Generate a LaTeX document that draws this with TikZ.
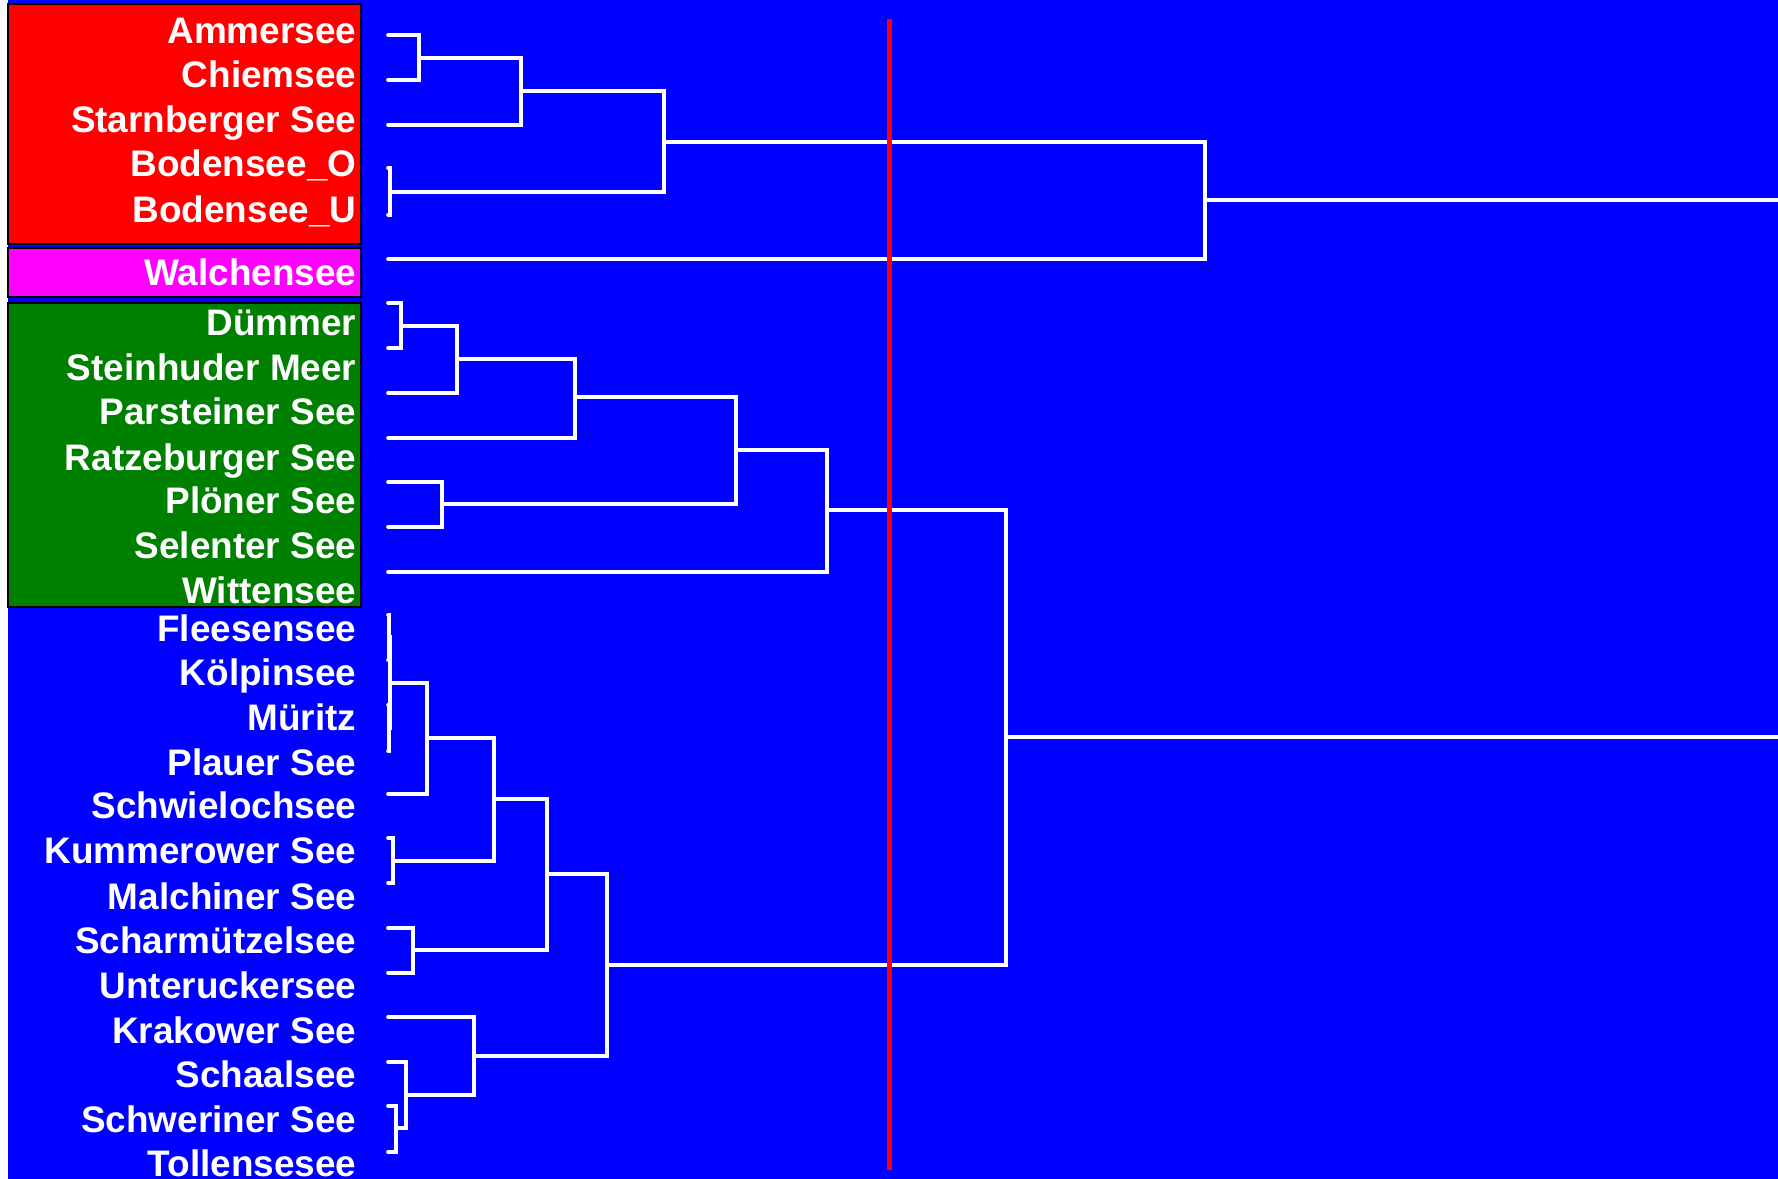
\documentclass[tikz,border=0pt]{standalone}
\usepackage{fontspec}
\setmainfont{Liberation Sans}
\usepackage{xcolor}
\usepackage{tikz}
\usetikzlibrary{calc}
\definecolor{C_BG}   {HTML}{0000FF}
\definecolor{C_SOUTH}{HTML}{FF0000}
\definecolor{C_WALCH}{HTML}{FF00FF}
\definecolor{C_NORTH}{HTML}{008000}
\definecolor{C_CUT}  {HTML}{FF0000}
\tikzset{
  %% -- lake name (right aligned on its baseline) --
  DG/lake/.style={
    text=white, anchor=base east, inner sep=0pt,
    font=\fontsize{10.5}{12}\selectfont\bfseries
  },
  %% -- coloured group box behind the names --
  DG/group/.style={draw=black, line width=0.02cm},
  %% -- dendrogram link --
  DG/link/.style={draw=white, line width=0.036cm, line cap=round},
  %% -- cut line --
  DG/cut/.style={draw=C_CUT, line width=0.05cm},
}

\begin{document}
\begin{tikzpicture}[x=0.01cm, y=-0.01cm]

\useasboundingbox (0,0) rectangle (1778,1179);
\pgfmathsetmacro{\xT}{357}  %% right edge of names
\pgfmathsetmacro{\xL}{388}  %% start of leaves

%% ━━━━━━━━━━━━━━━━━━━━━━━━━━━━━━━━━━━━━━━━━━━━━━━━━━━━━━━━━━━━━━━━━━━━━
%%  BACKGROUND AND GROUP BOXES
%% ━━━━━━━━━━━━━━━━━━━━━━━━━━━━━━━━━━━━━━━━━━━━━━━━━━━━━━━━━━━━━━━━━━━━━
\fill[C_BG] (8,0) rectangle (1778,1179);
\draw[DG/group, fill=C_SOUTH] (8,4)   rectangle (361,244);
\draw[DG/group, fill=C_WALCH] (8,248) rectangle (361,297);
\draw[DG/group, fill=C_NORTH] (8,303) rectangle (361,607);

%% ━━━━━━━━━━━━━━━━━━━━━━━━━━━━━━━━━━━━━━━━━━━━━━━━━━━━━━━━━━━━━━━━━━━━━
%%  LAKE NAMES
%% ━━━━━━━━━━━━━━━━━━━━━━━━━━━━━━━━━━━━━━━━━━━━━━━━━━━━━━━━━━━━━━━━━━━━━
\node[DG/lake] (nAmmer)  at (\xT,44)   {Ammersee};
\node[DG/lake] (nChiem)  at (\xT,88)   {Chiemsee};
\node[DG/lake] (nStarn)  at (\xT,133)  {Starnberger See};
\node[DG/lake] (nBodO)   at (\xT,177)  {Bodensee\_O};
\node[DG/lake] (nBodU)   at (\xT,222)  {Bodensee\_U};
\node[DG/lake] (nWalch)  at (\xT,285)  {Walchensee};
\node[DG/lake] (nDuemm)  at (\xT,336)  {Dümmer};
\node[DG/lake] (nSteinh) at (\xT,380)  {Steinhuder Meer};
\node[DG/lake] (nParst)  at (\xT,425)  {Parsteiner See};
\node[DG/lake] (nRatze)  at (\xT,470)  {Ratzeburger See};
\node[DG/lake] (nPloen)  at (\xT,513)  {Plöner See};
\node[DG/lake] (nSelent) at (\xT,558)  {Selenter See};
\node[DG/lake] (nWitten) at (\xT,603)  {Wittensee};
\node[DG/lake] (nFlees)  at (\xT,641)  {Fleesensee};
\node[DG/lake] (nKoelp)  at (\xT,685)  {Kölpinsee};
\node[DG/lake] (nMueri)  at (\xT,730)  {Müritz};
\node[DG/lake] (nPlauer) at (\xT,775)  {Plauer See};
\node[DG/lake] (nSchwie) at (\xT,818)  {Schwielochsee};
\node[DG/lake] (nKummer) at (\xT,863)  {Kummerower See};
\node[DG/lake] (nMalch)  at (\xT,909)  {Malchiner See};
\node[DG/lake] (nScharm) at (\xT,953)  {Scharmützelsee};
\node[DG/lake] (nUnter)  at (\xT,998)  {Unteruckersee};
\node[DG/lake] (nKrak)   at (\xT,1043) {Krakower See};
\node[DG/lake] (nSchaal) at (\xT,1087) {Schaalsee};
\node[DG/lake] (nSchwer) at (\xT,1132) {Schweriner See};
\node[DG/lake] (nToll)   at (\xT,1176) {Tollensesee};

%% ━━━━━━━━━━━━━━━━━━━━━━━━━━━━━━━━━━━━━━━━━━━━━━━━━━━━━━━━━━━━━━━━━━━━━
%%  LEAVES
%% ━━━━━━━━━━━━━━━━━━━━━━━━━━━━━━━━━━━━━━━━━━━━━━━━━━━━━━━━━━━━━━━━━━━━━
\coordinate (lAmmer)  at (\xL,35);
\coordinate (lChiem)  at (\xL,80);
\coordinate (lStarn)  at (\xL,125);
\coordinate (lBodO)   at (\xL,168);
\coordinate (lBodU)   at (\xL,215);
\coordinate (lWalch)  at (\xL,259);
\coordinate (lDuemm)  at (\xL,303);
\coordinate (lSteinh) at (\xL,348);
\coordinate (lParst)  at (\xL,393);
\coordinate (lRatze)  at (\xL,438);
\coordinate (lPloen)  at (\xL,482);
\coordinate (lSelent) at (\xL,527);
\coordinate (lWitten) at (\xL,572);
\coordinate (lFlees)  at (\xL,615);
\coordinate (lKoelp)  at (\xL,660);
\coordinate (lMueri)  at (\xL,705);
\coordinate (lPlauer) at (\xL,751);
\coordinate (lSchwie) at (\xL,794);
\coordinate (lKummer) at (\xL,838);
\coordinate (lMalch)  at (\xL,883);
\coordinate (lScharm) at (\xL,928);
\coordinate (lUnter)  at (\xL,973);
\coordinate (lKrak)   at (\xL,1017);
\coordinate (lSchaal) at (\xL,1062);
\coordinate (lSchwer) at (\xL,1106);
\coordinate (lToll)   at (\xL,1152);

%% ━━━━━━━━━━━━━━━━━━━━━━━━━━━━━━━━━━━━━━━━━━━━━━━━━━━━━━━━━━━━━━━━━━━━━
%%  MERGES — southern lakes + Walchensee
%% ━━━━━━━━━━━━━━━━━━━━━━━━━━━━━━━━━━━━━━━━━━━━━━━━━━━━━━━━━━━━━━━━━━━━━
\coordinate (mAC)   at (419,58);
\coordinate (mACS)  at (521,91);
\coordinate (mBod)  at (390,192);
\coordinate (mSud)  at (664,142);
\coordinate (mTop)  at (1205,200);
\coordinate (eTop)  at (1778,200);

\draw[DG/link] (lAmmer) -| (mAC)  |- (lChiem);
\draw[DG/link] (mAC)    -| (mACS) |- (lStarn);
\draw[DG/link] (lBodO)  -| (mBod) |- (lBodU);
\draw[DG/link] (mACS)   -| (mSud) |- (mBod);
\draw[DG/link] (mSud)   -| (mTop) |- (lWalch);
\draw[DG/link] (mTop)   -- (eTop);

%% ━━━━━━━━━━━━━━━━━━━━━━━━━━━━━━━━━━━━━━━━━━━━━━━━━━━━━━━━━━━━━━━━━━━━━
%%  MERGES — north-west lakes
%% ━━━━━━━━━━━━━━━━━━━━━━━━━━━━━━━━━━━━━━━━━━━━━━━━━━━━━━━━━━━━━━━━━━━━━
\coordinate (mDS)   at (401,326);
\coordinate (mDSP)  at (457,359);
\coordinate (mDSPR) at (575,397);
\coordinate (mPS)   at (442,504);
\coordinate (mNW1)  at (736,450);
\coordinate (mNW)   at (827,510);

\draw[DG/link] (lDuemm) -| (mDS)   |- (lSteinh);
\draw[DG/link] (mDS)    -| (mDSP)  |- (lParst);
\draw[DG/link] (mDSP)   -| (mDSPR) |- (lRatze);
\draw[DG/link] (lPloen) -| (mPS)   |- (lSelent);
\draw[DG/link] (mDSPR)  -| (mNW1)  |- (mPS);
\draw[DG/link] (mNW1)   -| (mNW)   |- (lWitten);

%% ━━━━━━━━━━━━━━━━━━━━━━━━━━━━━━━━━━━━━━━━━━━━━━━━━━━━━━━━━━━━━━━━━━━━━
%%  MERGES — north-east lakes
%% ━━━━━━━━━━━━━━━━━━━━━━━━━━━━━━━━━━━━━━━━━━━━━━━━━━━━━━━━━━━━━━━━━━━━━
\coordinate (mFK)   at (389,637);
\coordinate (mMP)   at (389,728);
\coordinate (mFKMP) at (390,683);
\coordinate (mSw)   at (427,738);
\coordinate (mKM)   at (393,861);
\coordinate (mKMx)  at (494,799);
\coordinate (mSU)   at (413,950);
\coordinate (mSUx)  at (547,874);
\coordinate (mST)   at (396,1128);
\coordinate (mSST)  at (406,1095);
\coordinate (mKr)   at (474,1056);
\coordinate (mNO)   at (607,965);
\coordinate (mNord) at (1006,737);
\coordinate (eNord) at (1778,737);

\draw[DG/link] (lFlees)  -| (mFK)   |- (lKoelp);
\draw[DG/link] (lMueri)  -| (mMP)   |- (lPlauer);
\draw[DG/link] (mFK)     -| (mFKMP) |- (mMP);
\draw[DG/link] (mFKMP)   -| (mSw)   |- (lSchwie);
\draw[DG/link] (lKummer) -| (mKM)   |- (lMalch);
\draw[DG/link] (mSw)     -| (mKMx)  |- (mKM);
\draw[DG/link] (lScharm) -| (mSU)   |- (lUnter);
\draw[DG/link] (mKMx)    -| (mSUx)  |- (mSU);
\draw[DG/link] (lSchwer) -| (mST)   |- (lToll);
\draw[DG/link] (lSchaal) -| (mSST)  |- (mST);
\draw[DG/link] (lKrak)   -| (mKr)   |- (mSST);
\draw[DG/link] (mSUx)    -| (mNO)   |- (mKr);
\draw[DG/link] (mNW)     -| (mNord) |- (mNO);
\draw[DG/link] (mNord)   -- (eNord);

%% Cut line
\coordinate (cTop) at (889,19);
\coordinate (cBot) at (889,1170);
\draw[DG/cut] (cTop) -- (cBot);

\end{tikzpicture}
\end{document}
